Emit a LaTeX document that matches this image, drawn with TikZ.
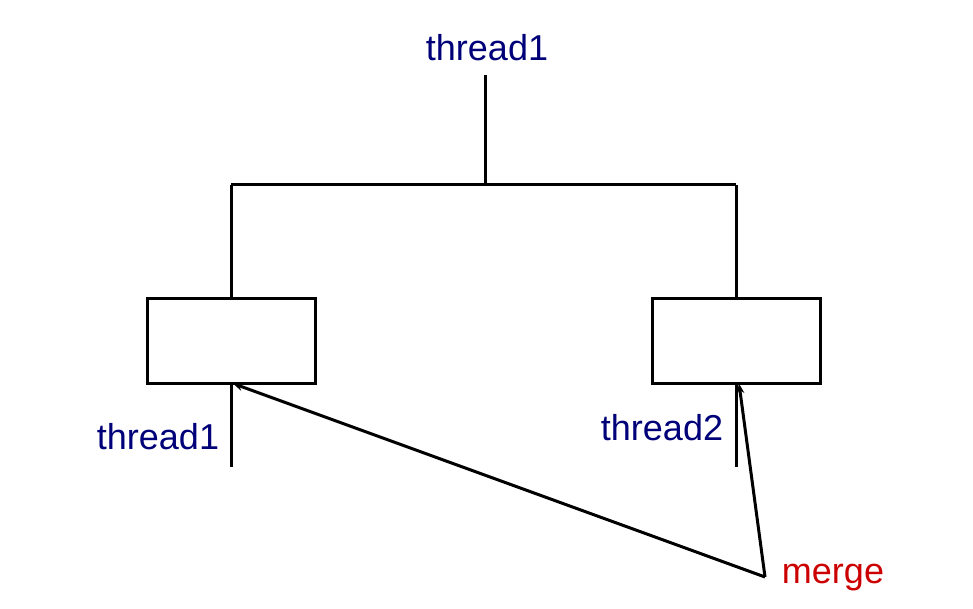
\documentclass[tikz,border=0pt]{standalone}
\usepackage{fontspec}
\setmainfont{Liberation Sans}
\usetikzlibrary{arrows.meta}
\definecolor{navy}{RGB}{0,0,120}
\definecolor{mred}{RGB}{204,0,0}
\begin{document}
\begin{tikzpicture}[x=1pt,y=-1pt,
  ln/.style={line width=3pt},
  boxst/.style={draw,line width=3pt,minimum width=168pt,minimum height=85pt,inner sep=0pt},
  lbl/.style={text=navy,font=\fontsize{36pt}{40pt}\selectfont,inner sep=0pt},
  mlbl/.style={text=mred,font=\fontsize{36pt}{40pt}\selectfont,inner sep=0pt},
  arr/.style={line width=3pt,-{Stealth[length=10pt,width=8pt]}}]
\useasboundingbox (0,0) rectangle (973,609);
\node[lbl] (t0) at (487,48) {thread1};
\coordinate (top) at (485,75);
\coordinate (mid) at (485,185);
\coordinate (hl) at (231,185);
\coordinate (hr) at (736,185);
\node[boxst] (bl) at (231,340.5) {};
\node[boxst] (br) at (736,340.5) {};
\coordinate (el) at (231,467);
\coordinate (er) at (736,467);
\node[lbl] (t1) at (158,437) {thread1};
\node[lbl] (t2) at (662,428) {thread2};
\node[mlbl] (m) at (833,578) {merge};
\coordinate (mp) at (765,577);
\draw[ln] (top) -- (mid);
\draw[ln] (hl) -- (hr);
\draw[ln] (hl) -- (bl.north);
\draw[ln] (hr) -- (br.north);
\draw[ln] (bl.south) -- (el);
\draw[ln] (br.south) -- (er);
\draw[arr] (mp) -- ([xshift=2pt,yshift=1pt]bl.south);
\draw[arr] (mp) -- ([xshift=3pt,yshift=1pt]br.south);
\end{tikzpicture}
\end{document}
